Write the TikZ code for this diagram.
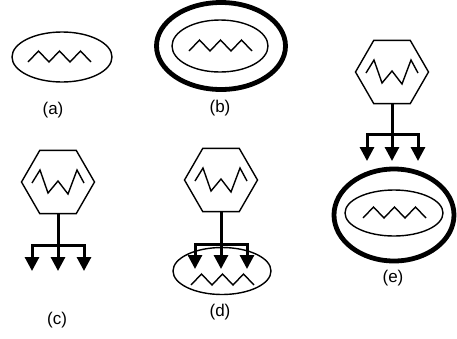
\documentclass[tikz,border=0pt]{standalone}
\usepackage{fontspec}
\setmainfont{Liberation Sans}
\usetikzlibrary{shapes.geometric, arrows.meta}

\begin{document}
\begin{tikzpicture}[x=1pt, y=-1pt,
    thin line/.style={line width=1.4pt},
    oval/.style={ellipse, draw, thin line, inner sep=0pt},
    thick oval/.style={ellipse, draw, line width=4.8pt, inner sep=0pt},
    hexa/.style={regular polygon, regular polygon sides=6, draw, thin line,
        minimum size=73pt, inner sep=0pt},
    fan/.style={line width=3pt, -{Triangle[width=14pt,length=14pt]}},
    caption/.style={font=\fontsize{17}{19}\selectfont, inner sep=0pt},
    zig/.pic={\draw[thin line] (-31,5) -- ++(10.5,-11) -- ++(10.5,11) -- ++(10.5,-11)
        -- ++(10.5,11) -- ++(10.5,-11) -- ++(10.5,11);},
    tooth/.pic={\draw[thin line] (-26,1) -- (-18,-12) -- (-10,11) -- (0,-1)
        -- (10,12) -- (19,-12) -- (26,1);}]
    \useasboundingbox (0,0) rectangle (457,338);

    % (a)
    \node[oval, minimum width=100pt, minimum height=50pt] (ea) at (62,57) {};
    \pic at ([xshift=-3pt]ea.center) {zig};
    \node[caption] (la) at (53,110) {(a)};

    % (b)
    \node[thick oval, minimum width=129pt, minimum height=87pt] (ob) at (221,46) {};
    \node[oval, minimum width=96pt, minimum height=52pt] (eb) at (220,46) {};
    \pic at (eb.center) {zig};
    \node[caption] (lb) at (220,108) {(b)};

    % (c)
    \node[hexa] (hc) at (58,182) {};
    \pic at (hc.center) {tooth};
    \coordinate (cj) at (58,245);
    \coordinate (c1) at (32,271);
    \coordinate (c2) at (58,271);
    \coordinate (c3) at (84,271);
    \draw[fan] (hc.south) -- (cj) -| (c1);
    \draw[fan] (cj) -- (c2);
    \draw[fan] (cj) -| (c3);
    \node[caption] (lc) at (57,320) {(c)};

    % (d)
    \node[hexa] (hd) at (221,180) {};
    \pic at (hd.center) {tooth};
    \node[oval, minimum width=98pt, minimum height=47pt] (ed) at (222,271) {};
    \pic at ([yshift=-9pt]ed.center) {zig};
    \coordinate (dj) at (221,244);
    \coordinate (d1) at (195,269);
    \coordinate (d2) at (221,269);
    \coordinate (d3) at (247,269);
    \draw[fan] (hd.south) -- (dj) -| (d1);
    \draw[fan] (dj) -- (d2);
    \draw[fan] (dj) -| (d3);
    \node[caption] (ld) at (220,312) {(d)};

    % (e)
    \node[hexa] (he) at (392,72) {};
    \pic at (he.center) {tooth};
    \node[thick oval, minimum width=120pt, minimum height=92pt] (oe) at (394,215) {};
    \node[oval, minimum width=98pt, minimum height=46pt] (ee) at (394,213) {};
    \pic at (ee.center) {zig};
    \coordinate (ej) at (392,134);
    \coordinate (e1) at (367,161);
    \coordinate (e2) at (392,161);
    \coordinate (e3) at (418,161);
    \draw[fan] (he.south) -- (ej) -| (e1);
    \draw[fan] (ej) -- (e2);
    \draw[fan] (ej) -| (e3);
    \node[caption] (le) at (393,278) {(e)};
\end{tikzpicture}
\end{document}
